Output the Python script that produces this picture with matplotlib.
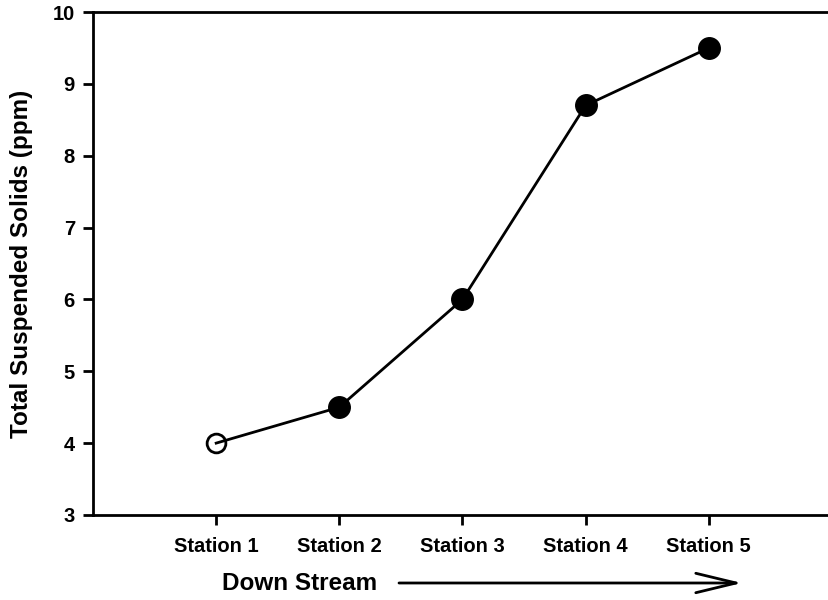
import matplotlib
matplotlib.use("Agg")
import matplotlib.pyplot as plt
from matplotlib.patches import FancyArrowPatch

# Station data
stations = ["Station 1", "Station 2", "Station 3", "Station 4", "Station 5"]
tss = [4.0, 4.5, 6.0, 8.7, 9.5]
y_ticks = [3, 4, 5, 6, 7, 8, 9, 10]

plt.rcParams["font.family"] = ["Liberation Sans", "DejaVu Sans"]
plt.rcParams["font.weight"] = "bold"

fig = plt.figure(figsize=(8.29, 6), dpi=100)
ax = fig.add_axes([0.1122, 0.1417, 0.8914, 0.8383])

x = list(range(1, len(stations) + 1))
ax.plot(x, tss, color="black", linewidth=2, zorder=2)
# first station drawn as open circle, rest filled
ax.plot(x[:1], tss[:1], "o", markersize=13.5, markerfacecolor="none",
        markeredgecolor="black", markeredgewidth=2, zorder=3)
ax.plot(x[1:], tss[1:], "o", markersize=15.5, color="black", zorder=3)

ax.set_xlim(0, 6)
ax.set_ylim(3, 10)
ax.set_xticks(x)
ax.set_xticklabels(stations, fontsize=14.5, fontweight="bold")
ax.set_yticks(y_ticks)
ax.set_yticklabels([str(v) for v in y_ticks], fontsize=14.5, fontweight="bold")

ax.spines["right"].set_visible(False)
for s in ["left", "bottom", "top"]:
    ax.spines[s].set_linewidth(2)
ax.tick_params(direction="out", length=7, width=2, pad=6)
ax.tick_params(axis="x", pad=9)

# axis titles
fig.text(22 / 829, 0.5608, "Total Suspended Solids (ppm)", rotation=90,
         ha="center", va="center", fontsize=17.5, fontweight="bold")
fig.text(222 / 829, 1 - 584 / 600, "Down Stream", ha="left", va="center",
         fontsize=17.5, fontweight="bold")

# downstream arrow
arrow = FancyArrowPatch((399 / 829, 1 - 583 / 600), (742 / 829, 1 - 583 / 600),
                        transform=fig.transFigure,
                        arrowstyle="->,head_length=2.9,head_width=0.7",
                        mutation_scale=10, linewidth=2, color="black",
                        shrinkA=0, shrinkB=0)
fig.add_artist(arrow)

fig.savefig("out.png", dpi=100)
